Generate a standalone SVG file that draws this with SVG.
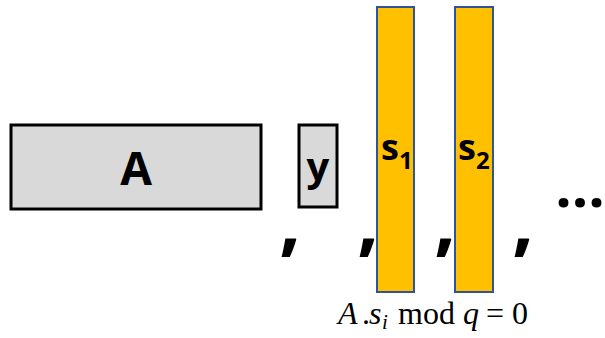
<svg xmlns="http://www.w3.org/2000/svg" width="605" height="338" viewBox="0 0 605 338">
  <style>
    .box { fill: #d9d9d9; stroke: #000; stroke-width: 3; }
    .col { fill: #ffc000; stroke: #2f5597; stroke-width: 2; }
    .lbl { font-family: "Open Sans", "Liberation Sans", sans-serif; font-weight: bold; fill: #000; }
    .sep { font-family: "Open Sans", "Liberation Sans", sans-serif; font-weight: bold; font-size: 76px; fill: #000; }
    .math { font-family: "Liberation Serif", serif; font-size: 32px; fill: #000; }
  </style>
  <rect width="605" height="338" fill="#fff"/>
  <g id="A">
    <rect class="box" x="11" y="125" width="250" height="84"/>
    <text class="lbl" x="136" y="185" font-size="46" text-anchor="middle">A</text>
  </g>
  <g id="y">
    <rect class="box" x="299" y="125" width="38" height="82"/>
    <text class="lbl" x="318" y="181" font-size="40" text-anchor="middle">y</text>
  </g>
  <g id="s1">
    <rect class="col" x="377" y="7" width="37" height="285"/>
    <text class="lbl" x="381" y="160" font-size="36">s<tspan font-size="24" dy="9">1</tspan></text>
  </g>
  <g id="s2">
    <rect class="col" x="455" y="7" width="38" height="285"/>
    <text class="lbl" x="458" y="160" font-size="36">s<tspan font-size="24" dy="9">2</tspan></text>
  </g>
  <g id="separators">
    <text class="sep" x="290" y="247" text-anchor="middle">,</text>
    <text class="sep" x="368" y="247" text-anchor="middle">,</text>
    <text class="sep" x="445" y="247" text-anchor="middle">,</text>
    <text class="sep" x="523" y="247" text-anchor="middle">,</text>
    <text class="lbl" x="580" y="207" font-size="58" text-anchor="middle">...</text>
  </g>
  <g id="condition">
    <text class="math" y="324"><tspan x="338" font-style="italic">A</tspan><tspan x="362">.</tspan><tspan x="369" font-style="italic">s</tspan><tspan x="382" dy="5" font-size="21" font-style="italic">i</tspan><tspan x="398" dy="-5">mod</tspan><tspan x="463" font-style="italic">q</tspan><tspan x="486">=</tspan><tspan x="512">0</tspan></text>
  </g>
</svg>
